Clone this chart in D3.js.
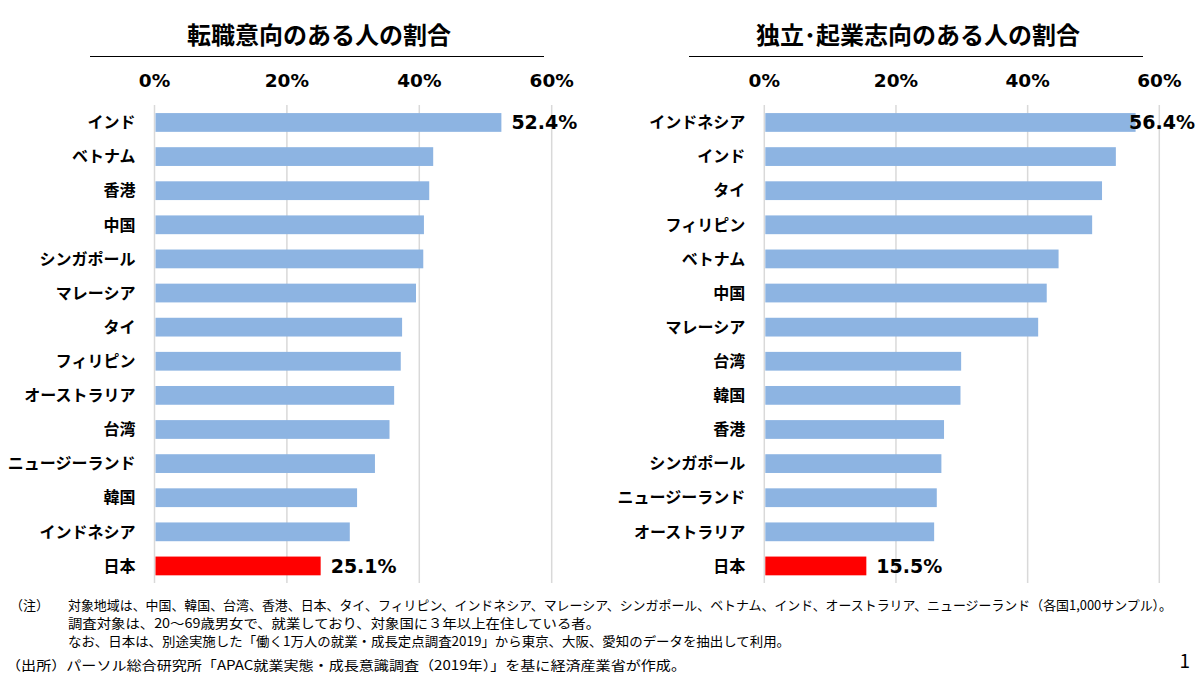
<!DOCTYPE html>
<html>
<head>
<meta charset="utf-8">
<script src="https://cdn.jsdelivr.net/npm/d3@7"></script>
<style>
  body { margin: 0; background: #fff; }
  svg { display: block; }
  .cat { font-family: "Noto Sans CJK JP", sans-serif; font-weight: 700; font-size: 16px; fill: #000; }
  .tick-label, .value { font-family: "DejaVu Sans", Verdana, sans-serif; font-weight: 700; fill: #000; }
  .title { font-family: "Noto Sans CJK JP", sans-serif; font-weight: 700; font-size: 24px; fill: #000; }
  .note { font-family: "Noto Sans CJK JP", sans-serif; font-size: 13px; fill: #000; }
</style>
</head>
<body>
<script>
// 転職意向 (left panel)
var jobCats = ["インド", "ベトナム", "香港", "中国", "シンガポール", "マレーシア", "タイ",
  "フィリピン", "オーストラリア", "台湾", "ニュージーランド", "韓国", "インドネシア", "日本"];
var jobVals = [52.4, 42.1, 41.5, 40.7, 40.6, 39.5, 37.4, 37.2, 36.2, 35.5, 33.3, 30.6, 29.5, 25.1];

// 独立・起業志向 (right panel)
var entCats = ["インドネシア", "インド", "タイ", "フィリピン", "ベトナム", "中国", "マレーシア",
  "台湾", "韓国", "香港", "シンガポール", "ニュージーランド", "オーストラリア", "日本"];
var entVals = [56.4, 53.4, 51.3, 49.8, 44.7, 42.9, 41.6, 29.9, 29.8, 27.3, 26.9, 26.2, 25.8, 15.5];

var tickVals = [0, 20, 40, 60];
var titles = ["転職意向のある人の割合", "独立･起業志向のある人の割合"];

var notes = [
  "対象地域は、中国、韓国、台湾、香港、日本、タイ、フィリピン、インドネシア、マレーシア、シンガポール、ベトナム、インド、オーストラリア、ニュージーランド（各国1,000サンプル）。",
  "調査対象は、20～69歳男女で、就業しており、対象国に３年以上在住している者。",
  "なお、日本は、別途実施した「働く1万人の就業・成長定点調査2019」から東京、大阪、愛知のデータを抽出して利用。"
];
var source = "パーソル総合研究所「APAC就業実態・成長意識調査（2019年）」を基に経済産業省が作成。";

var W = 1200, H = 674;
var svg = d3.select("body").append("svg").attr("width", W).attr("height", H);

var blue = "#8DB4E2", red = "#FF0000", grid = "#D9D9D9";
var fmt = function(v){ return d3.format(".1f")(v) + "%"; };

/* One bar panel: title with rule, top % labels, gridlines, bars, category names */
function drawPanel(cats, vals, title, x0, x1, lineL, lineR, edge){
	var x = d3.scaleLinear().domain([0, 60]).range([x0, x1]);
	var y = d3.scaleBand().domain(cats).range([105.4, 583]).paddingInner(0.45).paddingOuter(0.225);
	var g = svg.append("g");

	g.append("text").attr("class", "title")
		.attr("x", (lineL + lineR) / 2 + 2).attr("y", 44)
		.attr("text-anchor", "middle").text(title);
	g.append("line").attr("x1", lineL).attr("x2", lineR).attr("y1", 56.5).attr("y2", 56.5)
		.attr("stroke", "#000").attr("stroke-width", 1);

	g.selectAll("line.grid").data(tickVals).enter().append("line").classed("grid", true)
		.attr("x1", function(d){ return x(d); }).attr("x2", function(d){ return x(d); })
		.attr("y1", 105).attr("y2", 583)
		.attr("stroke", grid).attr("stroke-width", 1.5);

	g.selectAll("text.tick-label").data(tickVals).enter().append("text").classed("tick-label", true)
		.attr("x", function(d){ return x(d); }).attr("y", 87)
		.attr("text-anchor", "middle").style("font-size", "18.5px")
		.text(function(d){ return d + "%"; });

	var rows = cats.map(function(c, i){ return {cat: c, val: vals[i], i: i}; });

	g.selectAll("rect.bar").data(rows).enter().append("rect").classed("bar", true)
		.attr("x", x(0) + 1).attr("y", function(d){ return y(d.cat); })
		.attr("width", function(d){ return x(d.val) - x(0) - 1; })
		.attr("height", y.bandwidth())
		.attr("fill", function(d){ return d.cat === "日本" ? red : blue; });

	g.selectAll("text.cat").data(rows).enter().append("text").classed("cat", true)
		.attr("x", x(0) - 19).attr("y", function(d){ return y(d.cat) + y.bandwidth() / 2; })
		.attr("dy", "0.36em").attr("text-anchor", "end")
		.text(function(d){ return d.cat; });

	// value labels only on the top bar and on Japan; pulled back inside if too long
	var lab = rows.filter(function(d){ return d.i === 0 || d.cat === "日本"; });
	g.selectAll("text.value").data(lab).enter().append("text").classed("value", true)
		.style("font-size", "19px")
		.attr("y", function(d){ return y(d.cat) + y.bandwidth() / 2; })
		.attr("dy", "0.36em")
		.each(function(d){
			var t = d3.select(this), sx = x(d.val) + 10;
			if (sx + 66 > edge) t.attr("x", edge).attr("text-anchor", "end");
			else t.attr("x", sx).attr("text-anchor", "start");
		})
		.text(function(d){ return fmt(d.val); });
}

drawPanel(jobCats, jobVals, titles[0], 154.5, 551.7, 90, 544, 1195);
drawPanel(entCats, entVals, titles[1], 764.3, 1159.3, 689, 1143, 1195);

// footnotes
var notesG = svg.append("g");
notesG.append("text").attr("class", "note").attr("x", 10).attr("y", 610).text("（注）");
var noteLens = [1104, 532, 722];
notesG.selectAll("text.line").data(notes).enter().append("text").attr("class", "note line")
	.attr("x", 68).attr("y", function(d, i){ return 610 + i * 18; })
	.attr("textLength", function(d, i){ return noteLens[i]; })
	.attr("lengthAdjust", "spacingAndGlyphs")
	.text(function(d){ return d; });
notesG.append("text").attr("class", "note").attr("x", 6).attr("y", 670)
	.attr("textLength", 680).attr("lengthAdjust", "spacingAndGlyphs")
	.text("（出所）" + source);
svg.append("text").attr("x", 1190).attr("y", 668).attr("text-anchor", "end")
	.style("font-family", "'Noto Sans CJK JP', sans-serif").style("font-size", "19px").text("1");
</script>
</body>
</html>
